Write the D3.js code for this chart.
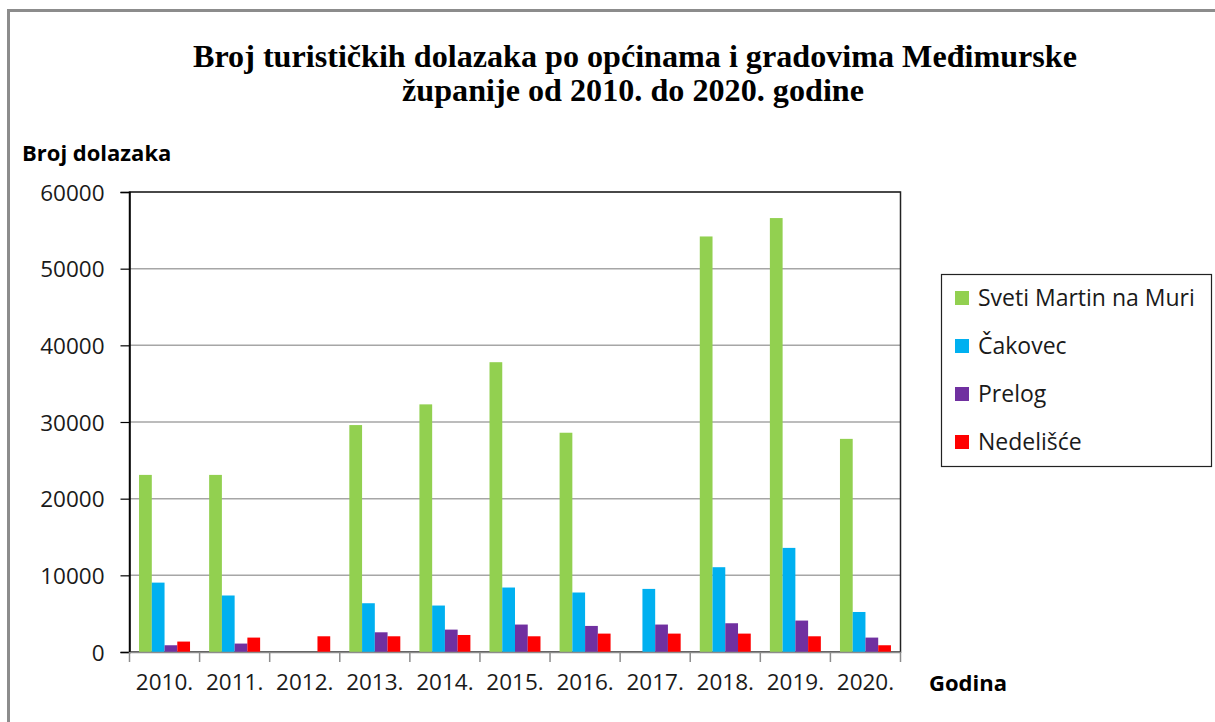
<!DOCTYPE html>
<html>
<head>
<meta charset="utf-8">
<script src="https://cdn.jsdelivr.net/npm/d3@7"></script>
<style>
  body { margin: 0; background: #fff; }
  svg { display: block; }
  .tick text { font-family: "Open Sans", sans-serif; font-size: 22.5px; fill: #1a1a1a; }
</style>
</head>
<body>
<div id="chart"></div>
<script>
// data
var years = ["2010.", "2011.", "2012.", "2013.", "2014.", "2015.", "2016.", "2017.", "2018.", "2019.", "2020."];
var seriesNames = ["Sveti Martin na Muri", "Čakovec", "Prelog", "Nedelišće"];
var svetiMartin = [23100, 23100, 0, 29600, 32300, 37800, 28600, 0, 54200, 56600, 27800];
var cakovec = [9050, 7370, 0, 6360, 6060, 8410, 7760, 8230, 11060, 13580, 5220];
var prelog = [880, 1100, 0, 2570, 2920, 3580, 3400, 3580, 3750, 4100, 1880];
var nedelisce = [1360, 1880, 2050, 2050, 2220, 2050, 2400, 2400, 2400, 2050, 880];
var yTicks = [0, 10000, 20000, 30000, 40000, 50000, 60000];
var colors = ["#92D050", "#00B0F0", "#7030A0", "#FF0000"];

var seriesValues = [svetiMartin, cakovec, prelog, nedelisce];

var svgWidth = 1215, svgHeight = 722;
var plot = { left: 129.5, right: 900.5, top: 192, bottom: 652 };

var svg = d3.select("#chart").append("svg")
  .attr("width", svgWidth)
  .attr("height", svgHeight);

// outer chart frame (runs off the right and bottom edge)
svg.append("rect")
  .attr("x", 8.5).attr("y", 10.5)
  .attr("width", 1300).attr("height", 800)
  .attr("fill", "none")
  .attr("stroke", "#8c8c8c")
  .attr("stroke-width", 3);

// title
var title = svg.append("text")
  .attr("text-anchor", "middle")
  .style("font-family", "'Liberation Serif', 'Times New Roman', serif")
  .style("font-weight", "bold")
  .style("font-size", "31px")
  .attr("fill", "#000");
title.append("tspan").attr("x", 635).attr("y", 67)
  .attr("textLength", 884).attr("lengthAdjust", "spacingAndGlyphs")
  .text("Broj turističkih dolazaka po općinama i gradovima Međimurske");
title.append("tspan").attr("x", 633).attr("y", 101)
  .attr("textLength", 462).attr("lengthAdjust", "spacingAndGlyphs")
  .text("županije od 2010. do 2020. godine");

////////////
// SCALES //
////////////

var x0 = d3.scaleBand()
  .domain(years)
  .range([plot.left, plot.right])
  .paddingInner(0).paddingOuter(0);

// gap width 150% -> outer padding 0.75 of a bar on each side
var x1 = d3.scaleBand()
  .domain(seriesNames)
  .range([0, x0.bandwidth()])
  .paddingInner(0).paddingOuter(0.75);

var y = d3.scaleLinear()
  .domain([0, 60000])
  .range([plot.bottom, plot.top]);

// gridlines
svg.append("g")
  .selectAll("line")
  .data(yTicks.slice(1))
  .enter().append("line")
  .attr("x1", plot.left).attr("x2", plot.right)
  .attr("y1", function (d) { return y(d); })
  .attr("y2", function (d) { return y(d); })
  .attr("stroke", "#a6a6a6")
  .attr("stroke-width", 1.5);

// plot border
svg.append("rect")
  .attr("x", plot.left).attr("y", plot.top)
  .attr("width", plot.right - plot.left)
  .attr("height", plot.bottom - plot.top)
  .attr("fill", "none")
  .attr("stroke", "#222")
  .attr("stroke-width", 1.5);

//////////
// BARS //
//////////

var groups = svg.append("g").selectAll("g")
  .data(years)
  .enter().append("g")
  .attr("transform", function (d) { return "translate(" + x0(d) + ",0)"; });

groups.selectAll("rect")
  .data(function (d, i) {
    return seriesNames.map(function (s, k) { return { name: s, value: seriesValues[k][i], color: colors[k] }; });
  })
  .enter().append("rect")
  .attr("x", function (d) { return x1(d.name); })
  .attr("width", x1.bandwidth())
  .attr("y", function (d) { return y(d.value); })
  .attr("height", function (d) { return plot.bottom - y(d.value); })
  .attr("fill", function (d) { return d.color; });

//////////
// AXES //
//////////

var yAxis = d3.axisLeft(y).tickValues(yTicks).tickSize(9).tickPadding(16).tickFormat(d3.format("d"));
var gy = svg.append("g")
  .attr("transform", "translate(" + plot.left + ",0)")
  .call(yAxis);
gy.select(".domain").attr("stroke", "#000").attr("stroke-width", 1.5);
gy.selectAll(".tick line").attr("stroke", "#000").attr("stroke-width", 1.2);
gy.selectAll(".tick text").attr("dy", "0.36em");

// x axis: ticks between categories
var xAxis = d3.axisBottom(x0).tickSize(0).tickPadding(22);
var gx = svg.append("g")
  .attr("transform", "translate(0," + plot.bottom + ")")
  .call(xAxis);
gx.select(".domain").attr("stroke", "#8c8c8c").attr("stroke-width", 1.5);

gx.selectAll(".sep")
  .data(years.concat(["end"]))
  .enter().append("line")
  .attr("class", "sep")
  .attr("x1", function (d, i) { return i < years.length ? x0(d) : plot.right; })
  .attr("x2", function (d, i) { return i < years.length ? x0(d) : plot.right; })
  .attr("y1", 0).attr("y2", 10)
  .attr("stroke", "#8c8c8c")
  .attr("stroke-width", 1.5);

// axis titles
svg.append("text")
  .attr("x", 22).attr("y", 161)
  .style("font-family", "'Open Sans', sans-serif")
  .style("font-weight", "bold")
  .style("font-size", "22px")
  .text("Broj dolazaka");

svg.append("text")
  .attr("x", 929).attr("y", 691)
  .style("font-family", "'Open Sans', sans-serif")
  .style("font-weight", "bold")
  .style("font-size", "22px")
  .text("Godina");

////////////
// LEGEND //
////////////

var legend = svg.append("g");
legend.append("rect")
  .attr("x", 941.5).attr("y", 274.5)
  .attr("width", 270).attr("height", 192)
  .attr("fill", "#fff")
  .attr("stroke", "#222")
  .attr("stroke-width", 1.2);

var items = legend.selectAll(".item")
  .data(seriesNames)
  .enter().append("g")
  .attr("class", "item")
  .attr("transform", function (d, i) { return "translate(955," + (298 + i * 48) + ")"; });

items.append("rect")
  .attr("x", 0).attr("y", -7)
  .attr("width", 14).attr("height", 14)
  .attr("fill", function (d, i) { return colors[i]; });

items.append("text")
  .attr("x", 23).attr("y", 0).attr("dy", "0.36em")
  .style("font-family", "'Open Sans', sans-serif")
  .style("font-size", "23px")
  .attr("fill", "#1a1a1a")
  .text(function (d) { return d; });
</script>
</body>
</html>
